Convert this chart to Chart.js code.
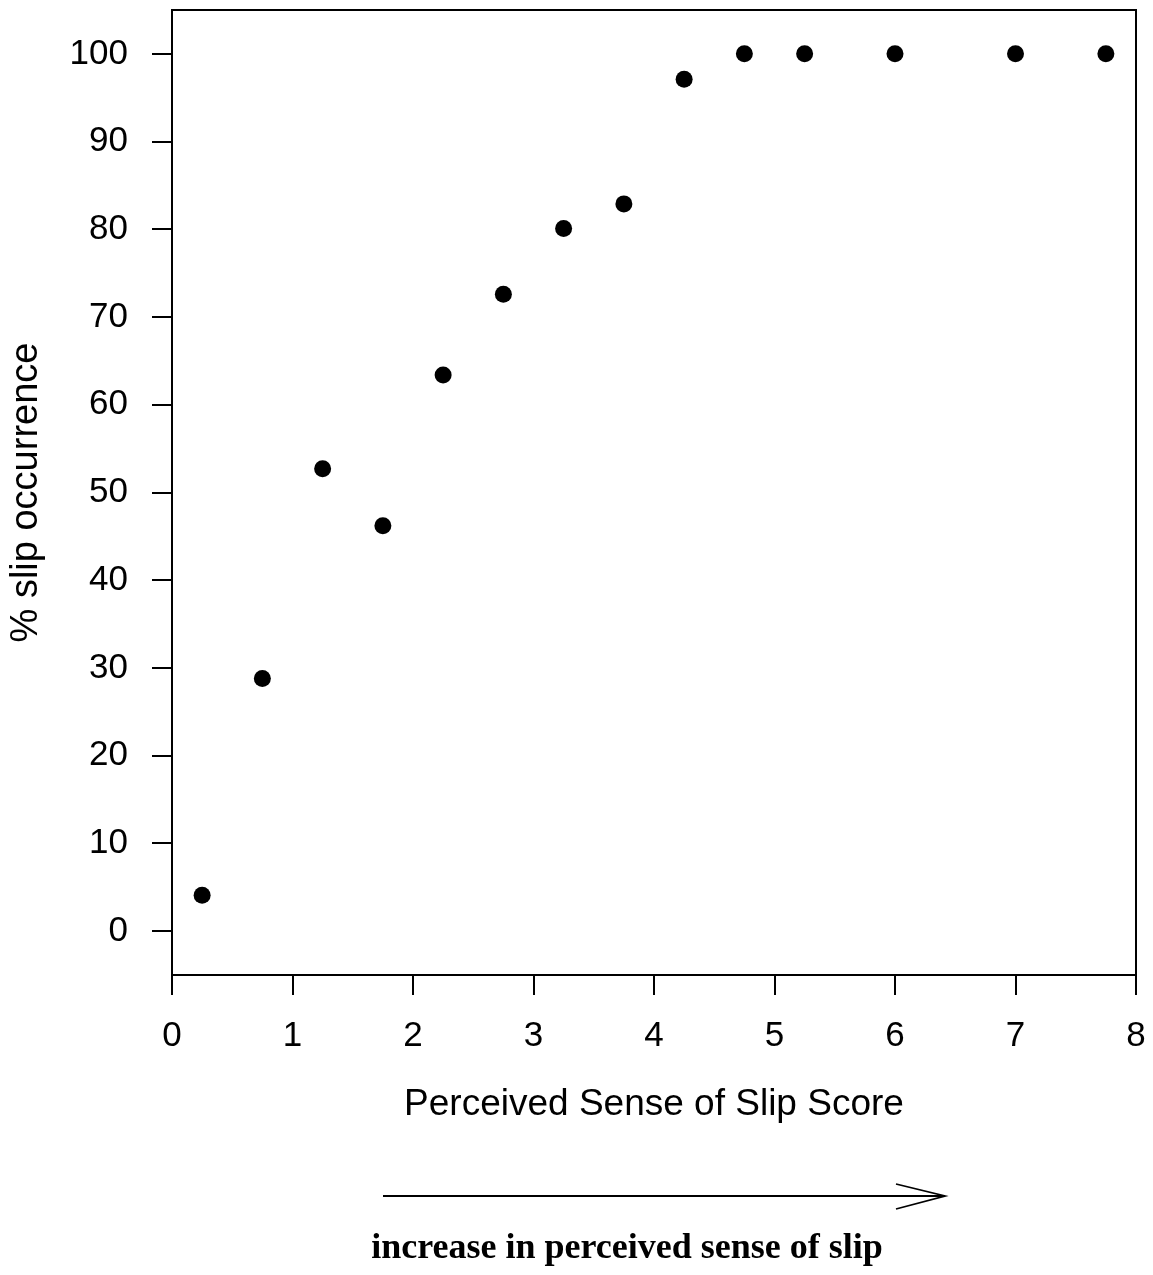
<!DOCTYPE html>
<html>
<head>
<meta charset="utf-8">
<title>Slip occurrence vs perceived sense of slip</title>
<script src="https://cdn.jsdelivr.net/npm/chart.js@4.4.0/dist/chart.umd.min.js"></script>
<style>
  html, body { margin: 0; padding: 0; background: #fff; }
  #wrap { width: 1153px; height: 1275px; }
</style>
</head>
<body>
<div id="wrap">
  <canvas id="slipChart" width="1153" height="1275"></canvas>
</div>
<script>
// perceived sense of slip score (bin centres) and % of trials with a slip
var slipScore = [0.25, 0.75, 1.25, 1.75, 2.25, 2.75, 3.25, 3.75, 4.25, 4.75, 5.25, 6, 7, 7.75];
var slipPercent = [4.1, 28.8, 52.7, 46.2, 63.4, 72.6, 80.1, 82.9, 97.1, 100, 100, 100, 100, 100];
var xTicks = [0, 1, 2, 3, 4, 5, 6, 7, 8];
var yTicks = [0, 10, 20, 30, 40, 50, 60, 70, 80, 90, 100];

var sansFont = '"Liberation Sans", Arial, Helvetica, sans-serif';
var serifFont = '"Liberation Serif", "Times New Roman", serif';

// box around the plot, arrow and caption under the x axis
var framePlugin = {
  id: 'frame',
  afterDraw: function(chart) {
    var ctx = chart.ctx;
    var a = chart.chartArea;
    ctx.save();
    ctx.strokeStyle = '#000';
    ctx.lineWidth = 2;
    ctx.beginPath();
    ctx.moveTo(a.left, a.top);
    ctx.lineTo(a.right, a.top);
    ctx.lineTo(a.right, a.bottom);
    ctx.stroke();

    // arrow
    ctx.lineWidth = 1.8;
    ctx.beginPath();
    ctx.moveTo(383, 1196);
    ctx.lineTo(945, 1196);
    ctx.moveTo(896, 1184);
    ctx.lineTo(945, 1196);
    ctx.lineTo(896, 1209);
    ctx.stroke();

    ctx.fillStyle = '#000';
    ctx.font = 'bold 36px ' + serifFont;
    ctx.textAlign = 'center';
    ctx.textBaseline = 'alphabetic';
    ctx.fillText('increase in perceived sense of slip', 627, 1258);
    ctx.restore();
  }
};

var ctx = document.getElementById('slipChart').getContext('2d');
new Chart(ctx, {
  type: 'scatter',
  data: {
    datasets: [{
      label: '% slip occurrence',
      data: slipScore.map(function(x, i) { return { x: x, y: slipPercent[i] }; }),
      backgroundColor: '#000',
      borderWidth: 0,
      pointRadius: 8.5,
      pointHoverRadius: 8.5
    }]
  },
  options: {
    responsive: false,
    animation: false,
    layout: { padding: { left: 0, top: 10, right: 17, bottom: 145 } },
    plugins: {
      legend: { display: false },
      tooltip: { enabled: false }
    },
    scales: {
      x: {
        type: 'linear',
        min: 0,
        max: 8,
        afterFit: function(scale) {
          scale.height = 155;
          scale.paddingLeft = 0;
          scale.paddingRight = 0;
        },
        afterBuildTicks: function(scale) {
          scale.ticks = xTicks.map(function(v) { return { value: v }; });
        },
        ticks: {
          color: '#000',
          font: { family: sansFont, size: 35 },
          padding: 20
        },
        grid: {
          drawOnChartArea: false,
          drawTicks: true,
          tickLength: 20,
          color: '#000',
          lineWidth: 2
        },
        border: { display: true, color: '#000', width: 2 },
        title: {
          display: true,
          text: 'Perceived Sense of Slip Score',
          color: '#000',
          font: { family: sansFont, size: 37 },
          padding: { top: 0, bottom: 3 }
        }
      },
      y: {
        type: 'linear',
        min: -5,
        max: 105,
        afterFit: function(scale) {
          scale.width = 172;
          scale.paddingTop = 0;
          scale.paddingBottom = 0;
        },
        afterBuildTicks: function(scale) {
          scale.ticks = yTicks.map(function(v) { return { value: v }; });
        },
        ticks: {
          color: '#000',
          font: { family: sansFont, size: 35 },
          padding: 24
        },
        grid: {
          drawOnChartArea: false,
          drawTicks: true,
          tickLength: 20,
          color: '#000',
          lineWidth: 2
        },
        border: { display: true, color: '#000', width: 2 },
        title: {
          display: true,
          text: '% slip occurrence',
          color: '#000',
          font: { family: sansFont, size: 38 },
          padding: { top: 4, bottom: 0 }
        }
      }
    }
  },
  plugins: [framePlugin]
});
</script>
</body>
</html>
